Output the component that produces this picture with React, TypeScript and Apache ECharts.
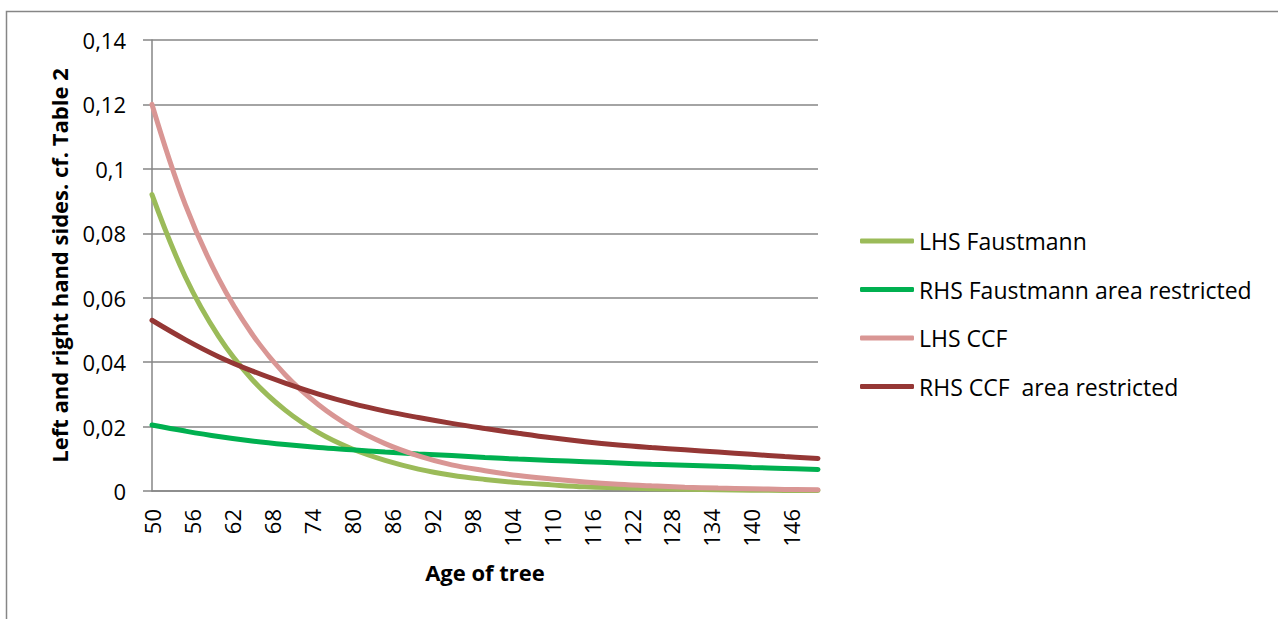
import React, { useEffect, useRef } from "react";
import * as echarts from "echarts";

const ages = [50, 55, 60, 65, 70, 75, 80, 85, 90, 95, 100, 105, 110, 115, 120, 125, 130, 135, 140, 145, 150];
const lhsFaustmann = [0.092, 0.0665, 0.048, 0.0347, 0.0251, 0.0181, 0.0131, 0.0095, 0.0068, 0.0049, 0.0036, 0.0026, 0.0019, 0.0013, 0.00098, 0.00071, 0.00051, 0.00037, 0.00027, 0.00019, 0.00014];
const rhsFaustmann = [0.0205, 0.0186, 0.0169, 0.0155, 0.0144, 0.0135, 0.0128, 0.0121, 0.0115, 0.011, 0.0104, 0.0099, 0.0095, 0.0091, 0.0087, 0.0083, 0.008, 0.0077, 0.0073, 0.007, 0.0067];
const lhsCCF = [0.12, 0.0889, 0.0659, 0.0488, 0.0361, 0.0268, 0.0198, 0.0147, 0.0109, 0.0081, 0.0063, 0.0048, 0.0037, 0.0028, 0.0021, 0.0016, 0.0012, 0.0009, 0.0007, 0.0005, 0.0004];
const rhsCCF = [0.053, 0.047, 0.0417, 0.0373, 0.0335, 0.0301, 0.0272, 0.0248, 0.0228, 0.021, 0.0194, 0.0179, 0.0165, 0.0153, 0.0143, 0.0135, 0.0128, 0.0121, 0.0114, 0.0107, 0.0101];
const xTickLabels = [50, 56, 62, 68, 74, 80, 86, 92, 98, 104, 110, 116, 122, 128, 134, 140, 146];
const seriesNames = ["LHS Faustmann", "RHS Faustmann area restricted", "LHS CCF", "RHS CCF  area restricted"];
const seriesColors = ["#9BBB59", "#00B050", "#D99694", "#953735"];
const seriesValues = [lhsFaustmann, rhsFaustmann, lhsCCF, rhsCCF];

const FONT = "Open Sans";
const GRAY = "#868686";

export default function App() {
  const ref = useRef<HTMLDivElement>(null);
  useEffect(() => {
    document.body.style.margin = "0";
    if (!ref.current) return;
    const chart = echarts.init(ref.current, undefined, { renderer: "svg" });
    chart.setOption({
      animation: false,
      backgroundColor: "#ffffff",
      textStyle: { fontFamily: FONT, color: "#000" },
      graphic: [
        {
          type: "rect",
          shape: { x: 6.5, y: 11.5, width: 1400, height: 800 },
          style: { fill: "none", stroke: GRAY, lineWidth: 1.5 },
          silent: true,
        },
      ],
      grid: { left: 152, top: 40, width: 666, height: 451, containLabel: false },
      legend: {
        orient: "vertical",
        left: 860,
        top: 229,
        padding: 0,
        icon: "roundRect",
        itemWidth: 54,
        itemHeight: 5,
        itemGap: 24.5,
        data: seriesNames,
        textStyle: { fontFamily: FONT, fontSize: 23, color: "#000", lineHeight: 24 },
      },
      xAxis: {
        type: "value",
        min: 50,
        max: 150,
        interval: 2,
        name: "Age of tree",
        nameLocation: "middle",
        nameGap: 70,
        nameTextStyle: { fontFamily: FONT, fontSize: 22, fontWeight: "bold", color: "#000" },
        axisLine: { show: true, lineStyle: { color: GRAY, width: 1.5 } },
        axisTick: { show: false },
        splitLine: { show: false },
        axisLabel: {
          rotate: 90,
          margin: 18,
          fontFamily: FONT,
          fontSize: 22,
          color: "#000",
          showMinLabel: true,
          showMaxLabel: true,
          formatter: (v: number) => (xTickLabels.includes(v) ? String(v) : ""),
        },
      },
      yAxis: {
        type: "value",
        min: 0,
        max: 0.14,
        interval: 0.02,
        name: "Left and right hand sides. cf. Table 2",
        nameLocation: "middle",
        nameGap: 82,
        nameTextStyle: { fontFamily: FONT, fontSize: 22, fontWeight: "bold", color: "#000" },
        axisLine: { show: true, lineStyle: { color: GRAY, width: 1.5 } },
        axisTick: { show: true, length: 9, lineStyle: { color: GRAY, width: 1.5 } },
        splitLine: { show: true, lineStyle: { color: GRAY, width: 1.5 } },
        axisLabel: {
          margin: 26,
          fontFamily: FONT,
          fontSize: 22,
          color: "#000",
          formatter: (v: number) => (v === 0 ? "0" : String(parseFloat(v.toFixed(2))).replace(".", ",")),
        },
      },
      series: seriesNames.map((name, i) => ({
        name,
        type: "line",
        data: ages.map((a, j) => [a, seriesValues[i][j]]),
        smooth: 0.4,
        symbol: "none",
        color: seriesColors[i],
        itemStyle: { color: seriesColors[i] },
        lineStyle: { color: seriesColors[i], width: 5, cap: "round" },
      })),
    });
    return () => chart.dispose();
  }, []);
  return <div ref={ref} style={{ width: 1278, height: 619 }} />;
}
